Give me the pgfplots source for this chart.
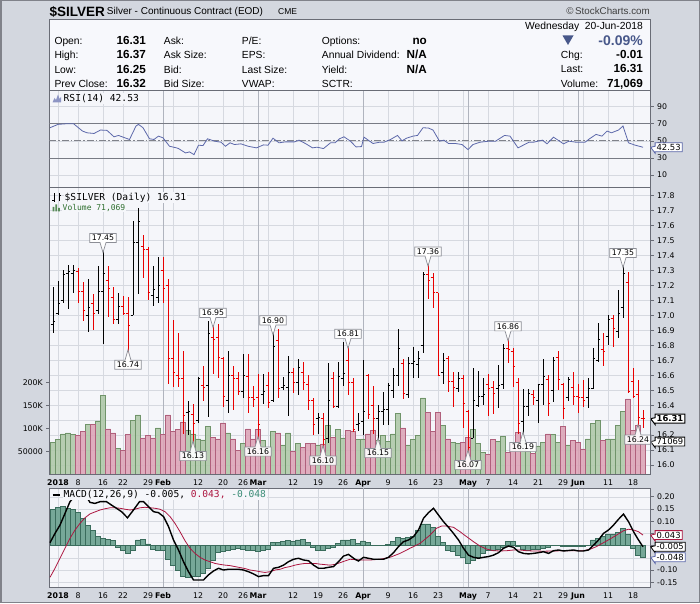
\documentclass[border=0pt]{standalone}
\usepackage{pgfplots}
\pgfplotsset{compat=1.18}
\usepackage{pgfplotstable}
\usepackage{fontspec}
\setmainfont{Liberation Sans}
\newfontfamily\dv{DejaVu Sans}
\newfontfamily\dvm{DejaVu Sans Mono}
\usetikzlibrary{shapes.callouts}

\definecolor{outerbg}{RGB}{211,215,223}
\definecolor{panelbg}{RGB}{245,246,250}
\definecolor{headbg}{RGB}{247,248,252}
\definecolor{gridc}{RGB}{214,217,224}
\definecolor{monthc}{RGB}{176,180,190}
\definecolor{framec}{RGB}{105,108,118}
\definecolor{barred}{RGB}{232,0,0}
\definecolor{volg}{RGB}{174,200,168}
\definecolor{volgd}{RGB}{112,148,106}
\definecolor{volp}{RGB}{220,164,182}
\definecolor{volpd}{RGB}{176,96,124}
\definecolor{rsic}{RGB}{92,104,170}
\definecolor{histc}{RGB}{118,168,152}
\definecolor{histd}{RGB}{58,108,92}
\definecolor{sigc}{RGB}{172,22,64}
\definecolor{bluet}{RGB}{72,88,138}
\definecolor{volt}{RGB}{45,110,45}
\definecolor{macdt}{RGB}{58,140,118}
\definecolor{calloutc}{RGB}{140,142,150}

\pgfdeclareplotmark{otick}{\pgfpathmoveto{\pgfqpoint{-2.4pt}{0pt}}\pgfpathlineto{\pgfqpoint{0.4pt}{0pt}}\pgfusepathqstroke}
\pgfdeclareplotmark{ctick}{\pgfpathmoveto{\pgfqpoint{-0.4pt}{0pt}}\pgfpathlineto{\pgfqpoint{2.4pt}{0pt}}\pgfusepathqstroke}

% ---------------- price bars: up (black) ----------------
\pgfplotstableread{
i o h l c
-1 16.94 17.19 16.88 16.96
0 17.01 17.23 17.00 17.08
1 17.10 17.30 17.08 17.27
2 17.28 17.34 17.04 17.29
3 17.28 17.34 17.15 17.30
6 17.00 17.24 16.89 17.05
8 17.03 17.33 17.01 17.16
9 17.16 17.45 16.81 17.28
12 16.97 17.15 16.94 17.06
15 17.00 17.63 17.00 17.49
16 17.49 17.72 17.14 17.63
19 17.13 17.33 17.06 17.17
20 17.12 17.39 17.08 17.20
26 16.35 16.43 16.20 16.36
28 16.30 16.59 16.28 16.58
30 16.53 16.96 16.32 16.88
34 16.43 16.76 16.35 16.60
37 16.49 16.74 16.45 16.60
41 16.47 16.61 16.41 16.49
43 16.43 16.90 16.42 16.79
45 16.52 16.59 16.50 16.53
46 16.52 16.73 16.33 16.62
48 16.55 16.71 16.47 16.65
52 16.31 16.35 16.21 16.32
54 16.18 16.68 16.15 16.43
56 16.39 16.69 16.38 16.59
57 16.58 16.82 16.53 16.61
60 16.27 16.35 16.23 16.28
61 16.29 16.70 16.20 16.36
64 16.31 16.40 16.15 16.36
65 16.36 16.49 16.27 16.37
66 16.37 16.55 16.27 16.53
67 16.50 16.65 16.45 16.60
68 16.60 16.91 16.53 16.78
70 16.47 16.72 16.45 16.68
71 16.68 16.79 16.58 16.69
72 16.67 16.76 16.58 16.71
73 16.80 17.29 16.75 17.27
77 16.62 16.75 16.54 16.70
80 16.51 16.62 16.49 16.58
83 16.18 16.65 16.18 16.43
84 16.40 16.63 16.39 16.46
85 16.46 16.58 16.40 16.47
88 16.51 16.67 16.38 16.53
89 16.54 16.81 16.51 16.78
93 16.29 16.51 16.19 16.39
94 16.39 16.51 16.33 16.48
96 16.43 16.54 16.28 16.54
97 16.54 16.71 16.40 16.59
99 16.50 16.72 16.42 16.70
102 16.45 16.59 16.43 16.57
106 16.45 16.58 16.38 16.51
107 16.51 16.78 16.51 16.71
108 16.70 16.95 16.69 16.84
110 16.86 17.00 16.80 16.97
112 16.89 17.17 16.85 17.01
113 17.05 17.35 16.98 17.28
}\pup

% ---------------- price bars: down (red) ----------------
\pgfplotstableread{
i o h l c
4 17.29 17.32 17.08 17.16
5 17.16 17.22 16.96 17.03
7 17.08 17.14 16.90 17.01
10 17.23 17.33 16.99 17.18
11 17.12 17.19 16.94 16.97
13 17.06 17.13 17.00 17.01
14 17.01 17.12 16.74 16.93
17 17.46 17.54 17.25 17.44
18 17.44 17.46 17.10 17.15
21 17.30 17.39 17.08 17.18
22 17.20 17.24 16.54 16.71
23 16.71 16.97 16.52 16.62
24 16.60 16.88 16.52 16.58
25 16.58 16.76 16.21 16.33
27 16.34 16.41 16.13 16.28
29 16.53 16.66 16.43 16.52
31 16.85 16.95 16.61 16.84
32 16.85 16.94 16.58 16.72
33 16.71 16.72 16.39 16.46
35 16.60 16.66 16.37 16.58
36 16.58 16.62 16.47 16.49
38 16.59 16.74 16.35 16.45
39 16.45 16.53 16.39 16.44
40 16.45 16.61 16.16 16.27
42 16.53 16.62 16.38 16.42
44 16.83 16.91 16.45 16.51
47 16.62 16.65 16.48 16.55
49 16.62 16.69 16.50 16.55
50 16.54 16.60 16.37 16.43
51 16.43 16.45 16.20 16.27
53 16.31 16.35 16.10 16.17
55 16.58 16.62 16.38 16.39
58 16.70 16.81 16.47 16.55
59 16.55 16.58 16.22 16.24
62 16.60 16.61 16.31 16.34
63 16.40 16.53 16.21 16.31
69 16.68 16.71 16.44 16.48
74 17.27 17.36 17.11 17.23
75 17.25 17.28 17.05 17.15
76 17.15 17.15 16.60 16.60
78 16.71 16.73 16.49 16.56
79 16.56 16.62 16.39 16.52
81 16.58 16.60 16.25 16.41
82 16.36 16.37 16.07 16.12
86 16.54 16.61 16.33 16.51
87 16.52 16.56 16.34 16.48
90 16.78 16.86 16.68 16.77
91 16.76 16.78 16.52 16.66
92 16.55 16.58 16.21 16.28
95 16.47 16.50 16.40 16.45
98 16.57 16.60 16.33 16.41
100 16.72 16.76 16.50 16.57
101 16.54 16.55 16.31 16.38
103 16.52 16.62 16.40 16.46
104 16.46 16.54 16.35 16.45
105 16.45 16.57 16.39 16.43
109 16.77 16.88 16.66 16.76
111 16.98 17.00 16.79 16.91
114 17.22 17.29 16.48 16.49
115 16.56 16.65 16.45 16.46
116 16.47 16.57 16.24 16.32
117 16.31 16.37 16.25 16.31
}\pdn

% ---------------- volume ----------------
\pgfplotstableread{
i v
-1 70000
0 76000
1 88000
2 90000
3 86000
6 109000
8 116000
9 171000
12 57000
15 118000
16 129000
20 101000
26 96000
27 88000
28 77000
29 75000
30 104000
34 90000
37 68000
41 73000
43 94000
45 64000
46 90000
48 68000
52 64000
54 107000
56 97000
57 79000
60 76000
61 77000
64 74000
65 84000
66 71000
67 88000
68 132000
70 64000
71 76000
72 84000
73 166000
77 107000
79 70000
80 68000
83 97000
84 68000
85 48000
88 72000
89 83000
93 74000
94 50000
96 62000
97 70000
99 87000
100 70000
102 64000
106 77000
107 110000
108 118000
110 77000
111 77000
112 106000
113 137000
}\vg
\pgfplotstableread{
i v
4 84000
5 93000
7 109000
10 99000
11 90000
13 52000
14 86000
17 79000
18 84000
19 79000
21 86000
22 129000
23 93000
24 97000
25 114000
31 80000
32 77000
33 112000
35 77000
36 52000
38 99000
39 77000
40 97000
42 47000
44 90000
47 50000
49 59000
50 68000
51 68000
53 66000
55 80000
58 95000
59 93000
62 88000
63 95000
69 101000
74 135000
75 93000
76 135000
78 77000
81 70000
82 80000
86 44000
87 76000
90 47000
91 70000
92 91000
95 45000
98 88000
101 104000
103 74000
104 70000
105 55000
109 74000
114 164000
115 95000
116 106000
117 71069
}\vp

% ---------------- RSI ----------------
\pgfplotstableread{
i r
-1.6 65.3
0 69.2
1.8 70.0
3.1 70.0
4.9 61.4
5.8 59.4
7.2 58.6
8.5 62.6
9.8 62.2
11.2 54.7
12.1 56.3
13.4 53.5
14.3 51.6
15.6 67.3
16.1 69.2
17 65.3
18.3 52.4
19.2 51.6
20.1 55.5
21 53.5
22.3 43.7
23.7 41.8
24.1 41.0
25.5 35.9
26.3 37.1
27.2 33.9
28.1 44.9
29 44.5
29.9 52.4
31.3 49.6
32.6 48.4
33.5 43.7
34.4 47.7
35.3 45.7
36.6 46.5
38 43.7
39.7 41.8
41.1 45.3
42 44.9
43 53.1
44.2 47.7
45.5 48.8
47.3 48.8
48.2 50.8
49.6 46.5
50.9 41.8
51.8 42.6
53.1 41.0
54.5 47.7
55.4 47.7
56.3 52.4
57.2 54.7
58.5 49.6
59.6 42.9
60.7 43.3
61.2 54.3
63 46.9
64.3 48.4
65.2 48.4
66.5 51.6
67.9 56.3
68.8 50.0
69.7 53.1
71 55.5
71.9 56.3
73 65.3
74.1 64.9
75 62.6
76.3 49.6
77.2 50.8
78.1 46.9
79.5 46.9
80.8 45.7
82 39.8
83 45.7
84.4 48.4
86.2 49.6
87.5 49.6
89.3 56.3
90.4 55.5
92 41.8
92.9 44.5
94.2 48.4
95.1 48.4
96.9 50.8
97.8 46.5
99.1 54.3
101.1 46.5
102.2 49.6
103.6 48.4
105.4 48.4
106.3 52.4
107.6 57.5
108.8 55.5
109.8 61.4
110.7 59.4
112.1 62.6
113 67.3
114.1 47.7
115.4 45.0
117 42.53
}\rsi

% ---------------- MACD line ----------------
\pgfplotstableread{
i m
-1.6 0.012
-0.6 0.050
0.4 0.084
1.4 0.132
2.4 0.180
3.4 0.205
4.4 0.215
5.4 0.210
6.4 0.177
7.4 0.173
8.4 0.180
9.7 0.180
10.7 0.166
11.7 0.153
12.7 0.139
13.9 0.114
15.1 0.146
16.3 0.180
17.1 0.180
18.1 0.160
19.1 0.139
20.1 0.135
21.1 0.119
22.1 0.078
23.1 0.023
24.1 -0.018
25.1 -0.066
26.1 -0.107
27.1 -0.141
28.1 -0.141
29.1 -0.141
30.1 -0.120
31.1 -0.104
32.1 -0.093
33.1 -0.100
34.1 -0.097
35.1 -0.097
36.1 -0.097
37.1 -0.100
38.1 -0.107
39.1 -0.116
40.1 -0.127
41.1 -0.123
42.1 -0.123
43.1 -0.093
44.1 -0.089
45.1 -0.080
46.1 -0.066
47.1 -0.056
48.1 -0.052
49.1 -0.059
50.1 -0.062
51.1 -0.080
52.1 -0.093
53.1 -0.093
54.1 -0.089
55.1 -0.086
56.1 -0.066
57.1 -0.043
58.1 -0.036
59.4 -0.056
60.1 -0.063
61.1 -0.048
62.1 -0.052
63.1 -0.056
64.1 -0.056
65.1 -0.056
66.1 -0.048
67.1 -0.029
68.1 -0.004
69.1 0.016
70.1 0.023
71.1 0.037
72.1 0.064
73.1 0.112
74.1 0.135
75.1 0.153
76.1 0.125
77.1 0.098
78.1 0.075
79.1 0.050
80.1 0.023
81.1 -0.011
82.1 -0.039
83.1 -0.048
84.1 -0.052
85.1 -0.048
86.1 -0.045
87.1 -0.039
88.1 -0.029
89.1 -0.011
90.1 -0.002
91.1 -0.007
92.1 -0.025
93.1 -0.032
94.1 -0.034
95.1 -0.032
96.1 -0.029
97.1 -0.025
98.1 -0.032
99.1 -0.021
100.1 -0.018
101.1 -0.022
102.1 -0.020
103.1 -0.018
104.1 -0.022
105.1 -0.022
106.1 -0.018
107.1 0.002
108.1 0.023
109.1 0.050
110.1 0.064
111.1 0.084
112.1 0.108
113.1 0.129
114.1 0.098
115.1 0.057
116.1 0.023
117 -0.005
}\macd

% ---------------- signal line ----------------
\pgfplotstableread{
i s
-1.6 -0.130
-0.6 -0.093
0.4 -0.052
1.4 -0.011
2.4 0.030
3.4 0.064
4.4 0.091
5.4 0.114
6.4 0.130
7.4 0.138
8.4 0.146
9.4 0.151
10.4 0.155
11.4 0.155
12.4 0.153
13.4 0.149
14.4 0.146
15.4 0.149
16.4 0.155
17.4 0.157
18.4 0.155
19.4 0.153
20.4 0.149
21.4 0.139
22.4 0.119
23.4 0.091
24.4 0.057
25.4 0.020
26.4 -0.011
27.4 -0.032
28.4 -0.048
29.4 -0.059
30.4 -0.066
31.4 -0.073
32.4 -0.077
33.4 -0.080
34.4 -0.082
35.4 -0.086
36.4 -0.090
37.4 -0.094
38.4 -0.100
39.4 -0.103
40.4 -0.107
41.4 -0.110
42.4 -0.107
43.4 -0.100
44.4 -0.097
45.4 -0.090
46.4 -0.086
47.4 -0.080
48.4 -0.076
49.4 -0.073
50.4 -0.073
51.4 -0.073
52.4 -0.076
53.4 -0.078
54.4 -0.080
55.4 -0.077
56.4 -0.070
57.4 -0.063
58.4 -0.056
60.4 -0.059
62.4 -0.059
64.4 -0.056
66.4 -0.048
68.4 -0.032
70.4 -0.011
72.4 0.009
74.4 0.043
75.7 0.071
76.7 0.080
77.7 0.080
79.1 0.075
80.4 0.057
81.7 0.037
83.1 0.016
84.4 -0.002
85.7 -0.014
87.1 -0.021
88.4 -0.022
89.7 -0.021
91.1 -0.018
92.4 -0.018
93.7 -0.021
95.1 -0.022
97.1 -0.023
99.1 -0.022
101.1 -0.021
103.1 -0.021
105.1 -0.021
106.4 -0.015
107.7 -0.004
109.1 0.012
110.4 0.027
111.7 0.043
113.1 0.061
114.1 0.067
115.1 0.064
116.1 0.057
117 0.043
}\sig

% ---------------- histogram ----------------
\pgfplotstableread{
i h
-1 0.149
0 0.157
1 0.160
2 0.153
3 0.149
4 0.135
5 0.112
6 0.084
7 0.061
8 0.039
9 0.030
10 0.026
11 0.020
12 -0.007
13 -0.018
14 -0.032
15 -0.018
16 0.023
17 0.026
18 0.007
19 -0.015
20 -0.021
21 -0.021
22 -0.056
23 -0.080
24 -0.100
25 -0.127
26 -0.130
27 -0.127
28 -0.127
29 -0.114
30 -0.093
31 -0.059
32 -0.029
33 -0.025
34 -0.018
35 -0.014
36 -0.011
37 -0.014
38 -0.018
39 -0.018
40 -0.025
41 -0.018
42 -0.015
43 0.012
44 0.012
45 0.016
46 0.020
47 0.016
48 0.023
49 0.026
50 0.012
51 -0.007
52 -0.018
53 -0.018
54 -0.011
55 -0.007
56 0.009
57 0.023
58 0.023
59 0.026
60 0.009
61 0.019
62 0.012
63 0.002
64 0.002
65 0.001
66 0.004
67 0.016
68 0.033
69 0.030
70 0.033
71 0.039
72 0.064
73 0.089
74 0.089
75 0.075
76 0.037
77 0.012
78 -0.018
79 -0.025
80 -0.039
81 -0.048
82 -0.073
83 -0.062
84 -0.048
85 -0.032
86 -0.021
87 -0.018
88 -0.015
89 -0.007
90 0.016
91 0.016
92 -0.004
93 -0.015
94 -0.018
95 -0.015
96 -0.013
97 -0.010
98 -0.007
99 0.001
100 0.001
101 -0.002
102 -0.002
103 -0.004
104 -0.003
105 -0.004
106 0.002
107 0.023
108 0.030
109 0.039
110 0.048
111 0.048
112 0.053
113 0.071
114 0.045
115 -0.010
116 -0.040
117 -0.048
}\hist

\pgfplotsset{
  panel/.style={scale only axis, width=601.4pt, xmin=-1.74, xmax=118.54,
    axis background/.style={fill=panelbg},
    axis line style={draw=framec, line width=0.8pt},
    xtick={0,4,9,13,18,23,28,33,37,42,47,52,57,61,66,71,76,81,86,91,96,101,105,110,115},
    extra x ticks={21,40,61,82,104},
    extra x tick style={grid style={draw=monthc, line width=0.7pt}},
    xmajorgrids, ymajorgrids,
    grid style={draw=gridc, line width=0.5pt},
    x tick style={draw=none},
    ytick pos=right, yticklabel pos=right,
    tick align=outside, major tick length=3pt,
    y tick style={draw=framec, line width=0.6pt},
    tick label style={font=\dv\fontsize{7.8}{9}\selectfont, text=black},
    xticklabel style={yshift=1.5pt},
  },
  datelabels/.style={
    xticklabels={\textbf{2018},8,16,22,29,{},12,20,26,{},12,19,26,\textbf{Apr},9,16,23,{},7,14,21,29,{},11,18},
    extra x tick labels={\textbf{Feb},\textbf{Mar},{},\textbf{May},\textbf{Jun}}},
  nodatelabels/.style={xticklabels={}, extra x tick labels={}},
}
\tikzset{
  hic/.style={rectangle callout, draw=calloutc, fill=white, line width=0.7pt,
    font=\dv\fontsize{7.8}{9}\selectfont, inner xsep=2pt, inner ysep=1.6pt,
    callout pointer width=6pt, yshift=10pt, callout relative pointer={(0pt,-10pt)}},
  loc/.style={rectangle callout, draw=calloutc, fill=white, fill opacity=0.9, text opacity=1, line width=0.7pt,
    font=\dv\fontsize{7.8}{9}\selectfont, inner xsep=2pt, inner ysep=1.6pt,
    callout pointer width=6pt, yshift=-10.5pt, callout relative pointer={(0pt,10.5pt)}},
  rbox/.style={rectangle callout, fill=white, line width=0.8pt,
    font=\dv\fontsize{8.4}{9}\selectfont, inner xsep=1.5pt, inner ysep=1.3pt,
    anchor=west, xshift=4pt, callout pointer width=7pt},
}
\newcommand\hl[3]{\node[anchor=base west, inner sep=0pt, font=\fontsize{10.3}{12}\selectfont] at (#1,#2) {#3};}
\newcommand\hv[3]{\node[anchor=base east, inner sep=0pt, font=\bfseries\fontsize{11.7}{13}\selectfont] at (#1,#2) {#3};}

\begin{document}
\begin{tikzpicture}[x=1pt,y=1pt]
\fill[outerbg] (0,0) rectangle (700,603);
\useasboundingbox (0,0) rectangle (700,603);
\draw[framec!85, line width=1.5pt] (0.75,0.75) rectangle (699.25,602.25);

% ---------- title ----------
\node[anchor=base west, inner sep=0pt, font=\bfseries\fontsize{13.5}{15}\selectfont] at (49.3,586.3) {\$SILVER};
\node[anchor=base west, inner sep=0pt, font=\fontsize{10}{12}\selectfont] at (106.7,588) {Silver - Continuous Contract (EOD)};
\node[anchor=base west, inner sep=0pt, font=\fontsize{8.5}{10}\selectfont] at (278,588) {CME};
\node[anchor=base east, inner sep=0pt, font=\fontsize{9.8}{11}\selectfont, text=black!75] at (650,588) {©\,StockCharts.com};

% ---------- header box ----------
\filldraw[fill=headbg, draw=framec, line width=0.8pt] (49.3,512.3) rectangle (650.7,583.7);
\hl{54.3}{558}{Open:}      \hv{146}{558}{16.31}
\hl{54.3}{544}{High:}      \hv{146}{544}{16.37}
\hl{54.3}{529.7}{Low:}     \hv{146}{529.7}{16.25}
\hl{54.3}{515.7}{Prev Close:} \hv{146}{515.7}{16.32}
\hl{163.7}{558}{Ask:}
\hl{163.7}{544}{Ask Size:}
\hl{163.7}{529.7}{Bid:}
\hl{163.7}{515.7}{Bid Size:}
\hl{241.7}{558}{P/E:}
\hl{241.7}{544}{EPS:}
\hl{241.7}{529.7}{Last Size:}
\hl{241.7}{515.7}{VWAP:}
\hl{321.7}{558}{Options:}  \hv{427}{558}{no}
\hl{321.7}{544}{Annual Dividend:} \hv{427}{544}{N/A}
\hl{321.7}{529.7}{Yield:}  \hv{427}{529.7}{N/A}
\hl{321.7}{515.7}{SCTR:}
\node[anchor=base east, inner sep=0pt, font=\fontsize{10.3}{12}\selectfont] at (643,573.7) {Wednesday\ \ 20-Jun-2018};
\fill[bluet] (562.5,567.5) -- (573.5,567.5) -- (568,558) -- cycle;
\node[anchor=base east, inner sep=0pt, font=\bfseries\fontsize{14}{15}\selectfont, text=bluet] at (643,557) {-0.09\%};
\hl{560.7}{544.7}{Chg:}    \hv{643}{544.7}{-0.01}
\hl{560.7}{530.3}{Last:}   \hv{643}{530.3}{16.31}
\hl{560.7}{515.7}{Volume:} \hv{643}{515.7}{71,069}

% ---------- RSI panel ----------
\begin{axis}[panel, nodatelabels, at={(49.3pt,512.3pt)}, anchor=north west, height=96.6pt,
  ymin=-4.2, ymax=108.5, ytick={10,30,50,70,90}, yticklabels={10,30,50,70,90},
  extra y ticks={30,70}, extra y tick labels={},
  extra y tick style={grid style={draw=framec!90, line width=0.9pt}},
  clip=false]
\draw[framec!85, line width=0.8pt, dash pattern=on 7pt off 2pt on 1.5pt off 2pt] (axis cs:-1.74,50) -- (axis cs:118.54,50);
\addplot[rsic, line width=0.8pt] table[x=i,y=r]{\rsi};
\node[rbox, draw=rsic, callout absolute pointer={(axis cs:118.54,42.53)}] at (axis cs:118.54,42.53) {42.53};
\end{axis}

% ---------- price panel (grid) ----------
\begin{axis}[panel, datelabels, at={(49.3pt,415.7pt)}, anchor=north west, height=287pt,
  ymin=15.938, ymax=17.856,
  ytick={16.0,16.1,16.2,16.3,16.4,16.5,16.6,16.7,16.8,16.9,17.0,17.1,17.2,17.3,17.4,17.5,17.6,17.7,17.8},
  yticklabels={16.0,16.1,16.2,{},16.4,16.5,16.6,16.7,16.8,16.9,17.0,17.1,17.2,17.3,17.4,17.5,17.6,17.7,17.8}]
\addplot[draw=none, forget plot] coordinates {(0,17)};
\end{axis}

% ---------- volume ----------
\begin{axis}[scale only axis, width=601.4pt, height=287pt, at={(49.3pt,415.7pt)}, anchor=north west,
  xmin=-1.74, xmax=118.54, ymin=0, ymax=623913,
  axis line style={draw=none}, xtick=\empty,
  ytick={50000,100000,150000,200000}, yticklabels={50000,100K,150K,200K},
  ytick pos=left, yticklabel pos=left, tick align=outside, major tick length=3pt,
  y tick style={draw=framec, line width=0.6pt}, scaled y ticks=false,
  tick label style={font=\dv\fontsize{7.8}{9}\selectfont}, clip=false]
\addplot[ybar, bar width=1, bar shift=0pt, fill=volg, draw=volgd, line width=0.5pt, fill opacity=0.88] table[x=i,y=v]{\vg};
\addplot[ybar, bar width=1, bar shift=0pt, fill=volp, draw=volpd, line width=0.5pt, fill opacity=0.88] table[x=i,y=v]{\vp};
\node[rbox, draw=black, callout absolute pointer={(axis cs:118.54,71069)}] at (axis cs:118.54,71069) {71069};
\end{axis}

% ---------- OHLC bars ----------
\begin{axis}[scale only axis, width=601.4pt, height=287pt, at={(49.3pt,415.7pt)}, anchor=north west,
  xmin=-1.74, xmax=118.54, ymin=15.938, ymax=17.856, hide axis, clip=false]
\addplot[only marks, mark=ctick, mark options={draw=black, line width=1pt},
  error bars/.cd, y dir=both, y explicit, error mark=none,
  error bar style={draw=black, line width=1pt}]
  table[x=i, y=c, y error plus expr={\thisrow{h}-\thisrow{c}}, y error minus expr={\thisrow{c}-\thisrow{l}}]{\pup};
\addplot[only marks, mark=otick, mark options={draw=black, line width=1pt}] table[x=i,y=o]{\pup};
\addplot[only marks, mark=ctick, mark options={draw=barred, line width=1pt},
  error bars/.cd, y dir=both, y explicit, error mark=none,
  error bar style={draw=barred, line width=1pt}]
  table[x=i, y=c, y error plus expr={\thisrow{h}-\thisrow{c}}, y error minus expr={\thisrow{c}-\thisrow{l}}]{\pdn};
\addplot[only marks, mark=otick, mark options={draw=barred, line width=1pt}] table[x=i,y=o]{\pdn};
\node[hic] at (axis cs:9,17.45) {17.45};
\node[hic] at (axis cs:31,16.95) {16.95};
\node[hic] at (axis cs:43,16.90) {16.90};
\node[hic] at (axis cs:58,16.81) {16.81};
\node[hic] at (axis cs:74,17.36) {17.36};
\node[hic] at (axis cs:90,16.86) {16.86};
\node[hic] at (axis cs:113,17.35) {17.35};
\node[loc] at (axis cs:14,16.74) {16.74};
\node[loc] at (axis cs:27,16.13) {16.13};
\node[loc] at (axis cs:40,16.16) {16.16};
\node[loc] at (axis cs:53,16.10) {16.10};
\node[loc] at (axis cs:64,16.15) {16.15};
\node[loc] at (axis cs:82,16.07) {16.07};
\node[loc] at (axis cs:93,16.19) {16.19};
\node[loc] at (axis cs:116,16.24) {16.24};
\node[rbox, draw=black, line width=1pt, font=\dv\bfseries\fontsize{8.4}{9}\selectfont, callout absolute pointer={(axis cs:118.54,16.31)}] at (axis cs:118.54,16.31) {16.31};
\end{axis}
\draw[framec, line width=0.8pt] (49.3,128.7) rectangle (650.7,415.7);

% ---------- MACD panel ----------
\begin{axis}[panel, datelabels, at={(49.3pt,114.7pt)}, anchor=north west, height=99pt,
  ymin=-0.1709, ymax=0.2348,
  ytick={-0.15,-0.10,-0.05,0,0.05,0.10,0.15,0.20},
  yticklabels={-0.15,-0.10,{},{},{},0.10,0.15,0.20},
  clip=false]
\addplot[ybar, bar width=1, bar shift=0pt, fill=histc, draw=histd, line width=0.5pt] table[x=i,y=h]{\hist};
\addplot[sigc, line width=0.8pt] table[x=i,y=s]{\sig};
\addplot[black, line width=1.4pt] table[x=i,y=m]{\macd};
\node[rbox, draw=sigc, callout absolute pointer={(axis cs:118.54,0.043)}] at (axis cs:118.54,0.043) {0.043};
\node[rbox, draw=black, callout absolute pointer={(axis cs:118.54,-0.005)}] at (axis cs:118.54,-0.005) {-0.005};
\node[rbox, draw=rsic, callout absolute pointer={(axis cs:118.54,-0.048)}] at (axis cs:118.54,-0.048) {-0.048};
\end{axis}

% ---------- legends ----------
\fill[rsic!70] (52.5,500.5) -- (54.5,505) -- (56,503) -- (58,508.5) -- (59.5,504) -- (61,506) -- (61,500.5) -- cycle;
\node[anchor=west, inner sep=1pt, fill=panelbg, font=\dvm\fontsize{9.6}{10}\selectfont] at (62.5,504.7) {RSI(14) 42.53};

\draw[black, line width=0.9pt] (54,401) -- (54,410) (52,403) -- (54,403) (59,401.5) -- (59,409.5) (59,407.5) -- (61,407.5);
\node[anchor=west, inner sep=1pt, fill=panelbg, font=\dvm\fontsize{9.6}{10}\selectfont] at (63.5,405.5) {\$SILVER (Daily) 16.31};
\fill[volt!80] (52.5,391.5) rectangle (54.3,396) (55.3,391.5) rectangle (57.1,398.5) (58.1,391.5) rectangle (59.9,395);
\node[anchor=west, inner sep=1pt, fill=panelbg, text=volt, font=\dvm\fontsize{8}{9}\selectfont] at (61.5,395.3) {Volume 71,069};

\draw[black, line width=2pt] (52.5,108) -- (60,108);
\node[anchor=west, inner sep=1pt, fill=panelbg, font=\dvm\fontsize{9.6}{10}\selectfont] at (62.5,108) {MACD(12,26,9) -0.005, \textcolor{sigc}{0.043,} \textcolor{macdt}{-0.048}};
\end{tikzpicture}
\end{document}
